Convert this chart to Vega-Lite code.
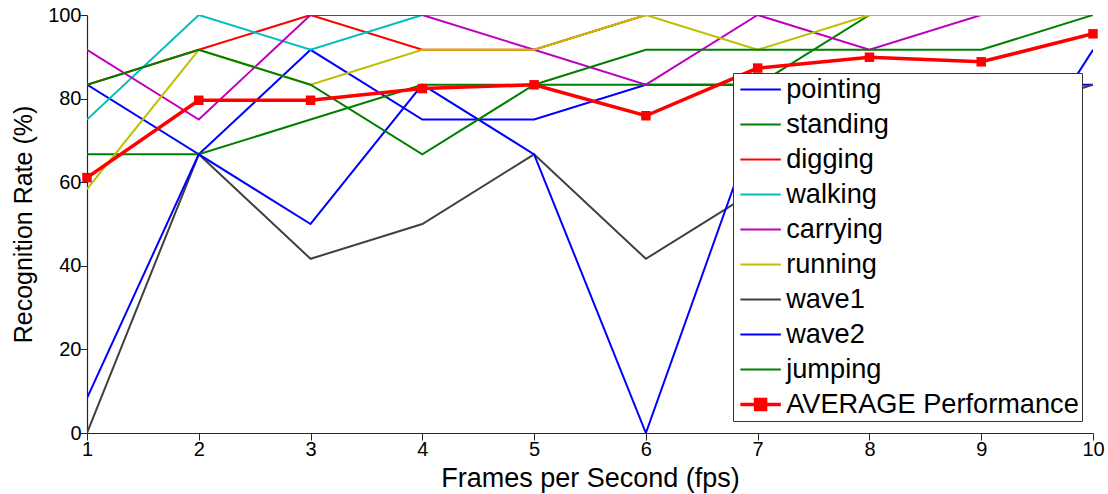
{
  "$schema": "https://vega.github.io/schema/vega-lite/v6.json",
  "autosize": {"type": "none"},
  "padding": {"left": 87, "top": 15, "right": 15, "bottom": 61},
  "width": 1006,
  "height": 418,
  "background": "white",
  "config": {
    "view": {"stroke": null},
    "font": "Liberation Sans",
    "axis": {
      "grid": false,
      "domainColor": "#262626",
      "domainWidth": 1.2,
      "tickColor": "#262626",
      "tickSize": 7,
      "tickWidth": 1,
      "labelFont": "Liberation Sans",
      "labelFontSize": 20,
      "labelColor": "black",
      "titleFont": "Liberation Sans",
      "titleFontWeight": "normal",
      "titleColor": "black"
    },
    "legend": {
      "orient": "none",
      "legendX": 646,
      "legendY": 58,
      "symbolSize": 729,
      "symbolOffset": 11,
      "symbolStrokeWidth": 2,
      "labelFont": "Liberation Sans",
      "labelFontSize": 27.2,
      "labelColor": "black",
      "labelOffset": 12,
      "labelLimit": 400,
      "rowPadding": 7,
      "padding": 3,
      "strokeColor": "#333333",
      "fillColor": "white",
      "cornerRadius": 0
    }
  },
  "datasets": {
    "acts": [
      {"fps": 1, "activity": "pointing", "rate": 83.33},
      {"fps": 2, "activity": "pointing", "rate": 66.67},
      {"fps": 3, "activity": "pointing", "rate": 91.67},
      {"fps": 4, "activity": "pointing", "rate": 75},
      {"fps": 5, "activity": "pointing", "rate": 75},
      {"fps": 6, "activity": "pointing", "rate": 83.33},
      {"fps": 7, "activity": "pointing", "rate": 83.33},
      {"fps": 8, "activity": "pointing", "rate": 83.33},
      {"fps": 9, "activity": "pointing", "rate": 83.33},
      {"fps": 10, "activity": "pointing", "rate": 83.33},
      {"fps": 1, "activity": "standing", "rate": 66.67},
      {"fps": 2, "activity": "standing", "rate": 66.67},
      {"fps": 3, "activity": "standing", "rate": 75},
      {"fps": 4, "activity": "standing", "rate": 83.33},
      {"fps": 5, "activity": "standing", "rate": 83.33},
      {"fps": 6, "activity": "standing", "rate": 83.33},
      {"fps": 7, "activity": "standing", "rate": 83.33},
      {"fps": 8, "activity": "standing", "rate": 100},
      {"fps": 9, "activity": "standing", "rate": 100},
      {"fps": 10, "activity": "standing", "rate": 100},
      {"fps": 1, "activity": "digging", "rate": 83.33},
      {"fps": 2, "activity": "digging", "rate": 91.67},
      {"fps": 3, "activity": "digging", "rate": 100},
      {"fps": 4, "activity": "digging", "rate": 91.67},
      {"fps": 5, "activity": "digging", "rate": 91.67},
      {"fps": 6, "activity": "digging", "rate": 100},
      {"fps": 7, "activity": "digging", "rate": 100},
      {"fps": 8, "activity": "digging", "rate": 100},
      {"fps": 9, "activity": "digging", "rate": 100},
      {"fps": 10, "activity": "digging", "rate": 100},
      {"fps": 1, "activity": "walking", "rate": 75},
      {"fps": 2, "activity": "walking", "rate": 100},
      {"fps": 3, "activity": "walking", "rate": 91.67},
      {"fps": 4, "activity": "walking", "rate": 100},
      {"fps": 5, "activity": "walking", "rate": 100},
      {"fps": 6, "activity": "walking", "rate": 100},
      {"fps": 7, "activity": "walking", "rate": 100},
      {"fps": 8, "activity": "walking", "rate": 100},
      {"fps": 9, "activity": "walking", "rate": 100},
      {"fps": 10, "activity": "walking", "rate": 100},
      {"fps": 1, "activity": "carrying", "rate": 91.67},
      {"fps": 2, "activity": "carrying", "rate": 75},
      {"fps": 3, "activity": "carrying", "rate": 100},
      {"fps": 4, "activity": "carrying", "rate": 100},
      {"fps": 5, "activity": "carrying", "rate": 91.67},
      {"fps": 6, "activity": "carrying", "rate": 83.33},
      {"fps": 7, "activity": "carrying", "rate": 100},
      {"fps": 8, "activity": "carrying", "rate": 91.67},
      {"fps": 9, "activity": "carrying", "rate": 100},
      {"fps": 10, "activity": "carrying", "rate": 100},
      {"fps": 1, "activity": "running", "rate": 58.33},
      {"fps": 2, "activity": "running", "rate": 91.67},
      {"fps": 3, "activity": "running", "rate": 83.33},
      {"fps": 4, "activity": "running", "rate": 91.67},
      {"fps": 5, "activity": "running", "rate": 91.67},
      {"fps": 6, "activity": "running", "rate": 100},
      {"fps": 7, "activity": "running", "rate": 91.67},
      {"fps": 8, "activity": "running", "rate": 100},
      {"fps": 9, "activity": "running", "rate": 100},
      {"fps": 10, "activity": "running", "rate": 100},
      {"fps": 1, "activity": "wave1", "rate": 0},
      {"fps": 2, "activity": "wave1", "rate": 66.67},
      {"fps": 3, "activity": "wave1", "rate": 41.67},
      {"fps": 4, "activity": "wave1", "rate": 50},
      {"fps": 5, "activity": "wave1", "rate": 66.67},
      {"fps": 6, "activity": "wave1", "rate": 41.67},
      {"fps": 7, "activity": "wave1", "rate": 58.33},
      {"fps": 8, "activity": "wave1", "rate": 66.67},
      {"fps": 9, "activity": "wave1", "rate": 75},
      {"fps": 10, "activity": "wave1", "rate": 83.33},
      {"fps": 1, "activity": "wave2", "rate": 8.33},
      {"fps": 2, "activity": "wave2", "rate": 66.67},
      {"fps": 3, "activity": "wave2", "rate": 50},
      {"fps": 4, "activity": "wave2", "rate": 83.33},
      {"fps": 5, "activity": "wave2", "rate": 66.67},
      {"fps": 6, "activity": "wave2", "rate": 0},
      {"fps": 7, "activity": "wave2", "rate": 75},
      {"fps": 8, "activity": "wave2", "rate": 75},
      {"fps": 9, "activity": "wave2", "rate": 50},
      {"fps": 10, "activity": "wave2", "rate": 91.67},
      {"fps": 1, "activity": "jumping", "rate": 83.33},
      {"fps": 2, "activity": "jumping", "rate": 91.67},
      {"fps": 3, "activity": "jumping", "rate": 83.33},
      {"fps": 4, "activity": "jumping", "rate": 66.67},
      {"fps": 5, "activity": "jumping", "rate": 83.33},
      {"fps": 6, "activity": "jumping", "rate": 91.67},
      {"fps": 7, "activity": "jumping", "rate": 91.67},
      {"fps": 8, "activity": "jumping", "rate": 91.67},
      {"fps": 9, "activity": "jumping", "rate": 91.67},
      {"fps": 10, "activity": "jumping", "rate": 100}
    ],
    "avg": [
      {"fps": 1, "activity": "AVERAGE Performance", "rate": 61.1},
      {"fps": 2, "activity": "AVERAGE Performance", "rate": 79.6},
      {"fps": 3, "activity": "AVERAGE Performance", "rate": 79.6},
      {"fps": 4, "activity": "AVERAGE Performance", "rate": 82.4},
      {"fps": 5, "activity": "AVERAGE Performance", "rate": 83.3},
      {"fps": 6, "activity": "AVERAGE Performance", "rate": 75.9},
      {"fps": 7, "activity": "AVERAGE Performance", "rate": 87.3},
      {"fps": 8, "activity": "AVERAGE Performance", "rate": 89.9},
      {"fps": 9, "activity": "AVERAGE Performance", "rate": 88.8},
      {"fps": 10, "activity": "AVERAGE Performance", "rate": 95.5}
    ]
  },
  "encoding": {
    "x": {
      "field": "fps", "type": "quantitative",
      "scale": {"domain": [1, 10], "nice": false, "zero": false},
      "axis": {
        "values": [1,2,3,4,5,6,7,8,9,10], "title": "Frames per Second (fps)", "titleFontSize": 27, "titlePadding": 6, "labelPadding": -1, "labelFlush": false,
        "encode": {"ticks": {"update": {"y2": {"value": -8}}}}
      }
    },
    "y": {
      "field": "rate", "type": "quantitative",
      "scale": {"domain": [0, 100], "nice": false},
      "axis": {
        "values": [0,20,40,60,80,100], "title": "Recognition Rate (%)", "titleFontSize": 25, "titlePadding": 11, "labelPadding": -1, "labelFlush": false,
        "encode": {"ticks": {"update": {"x2": {"value": 8}}}}
      }
    }
  },
  "layer": [
    {
      "data": {"name": "acts"},
      "mark": {"type": "line", "strokeWidth": 2, "clip": true},
      "encoding": {
        "color": {
          "field": "activity", "type": "nominal",
          "scale": {
            "domain": ["pointing","standing","digging","walking","carrying","running","wave1","wave2","jumping","AVERAGE Performance"],
            "range": ["#0000FF","#008000","#FF0000","#00BFBF","#BF00BF","#BFBF00","#404040","#0000FF","#008000","#FF0000"]
          },
          "legend": {
            "title": null,
            "symbolType": "M-1.5,0H1.5",
            "encode": {
              "symbols": {
                "update": {
                  "shape": {"signal": "datum.value === 'AVERAGE Performance' ? 'M-1.5,0H1.5M-0.37,-0.37H0.37V0.37H-0.37Z' : 'M-1.5,0H1.5'"},
                  "fill": {"signal": "datum.value === 'AVERAGE Performance' ? '#FF0000' : 'transparent'"},
                  "stroke": {"scale": "color", "field": "value"},
                  "strokeWidth": {"signal": "datum.value === 'AVERAGE Performance' ? 3.5 : 2"}
                }
              }
            }
          }
        }
      }
    },
    {
      "data": {"name": "avg"},
      "mark": {"type": "line", "strokeWidth": 3.5, "clip": true},
      "encoding": {
        "color": {"field": "activity", "type": "nominal"}
      }
    },
    {
      "data": {"name": "avg"},
      "mark": {"type": "point", "shape": "square", "filled": true, "size": 90, "color": "#FF0000", "opacity": 1}
    }
  ]
}
